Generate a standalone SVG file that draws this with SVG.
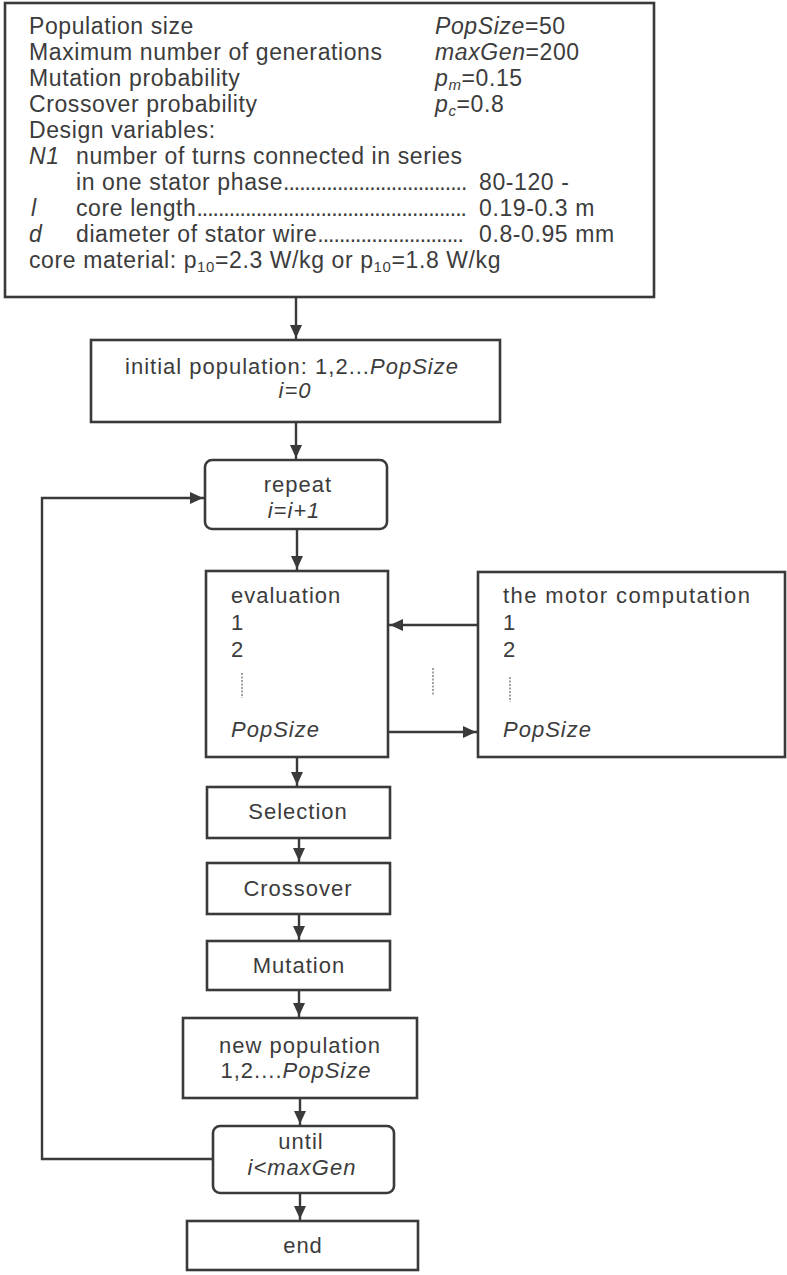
<svg xmlns="http://www.w3.org/2000/svg" width="787" height="1275" viewBox="0 0 787 1275">
<defs>
<style>
.box{fill:#fff;stroke:#3a3a3a;stroke-width:2.6}
.t{font-family:"Liberation Sans",Arial,sans-serif;font-size:22px;fill:#3c3c3c;letter-spacing:1px}
.p{font-size:23px;letter-spacing:0.6px}
.c{text-anchor:middle}
.i{font-style:italic}
.sub{font-size:15px}
.dots{letter-spacing:-1px}
.con{fill:none;stroke:#3a3a3a;stroke-width:2.4}
.dot{stroke:#8a8a8a;stroke-width:1.6;stroke-dasharray:2 1.5}
</style>
<marker id="ah" markerUnits="userSpaceOnUse" markerWidth="16" markerHeight="12" refX="15" refY="6" orient="auto">
<path d="M0,0 L13,6 L0,12 z" fill="#3a3a3a"/>
</marker>
</defs>
<rect width="787" height="1275" fill="#fff"/>

<g id="params">
<rect class="box" x="5" y="3" width="649" height="294"/>
<text class="t p" x="29" y="34">Population size</text>
<text class="t p" x="435" y="34"><tspan class="i">PopSize</tspan>=50</text>
<text class="t p" x="29" y="60">Maximum number of generations</text>
<text class="t p" x="435" y="60"><tspan class="i">maxGen</tspan>=200</text>
<text class="t p" x="29" y="86">Mutation probability</text>
<text class="t p" x="435" y="86"><tspan class="i">p</tspan><tspan class="sub i" dy="4">m</tspan><tspan dy="-4">=0.15</tspan></text>
<text class="t p" x="29" y="112">Crossover probability</text>
<text class="t p" x="435" y="112"><tspan class="i">p</tspan><tspan class="sub i" dy="4">c</tspan><tspan dy="-4">=0.8</tspan></text>
<text class="t p" x="29" y="138">Design variables:</text>
<text class="t p i" x="29" y="164">N1</text>
<text class="t p" x="76" y="164">number of turns connected in series</text>
<text class="t p" x="76" y="190">in one stator phase<tspan class="dots">..................................</tspan></text>
<text class="t p" x="479" y="190">80-120 -</text>
<text class="t p i" x="31" y="216">l</text>
<text class="t p" x="76" y="216">core length<tspan class="dots">..................................................</tspan></text>
<text class="t p" x="479" y="216">0.19-0.3 m</text>
<text class="t p i" x="29" y="242">d</text>
<text class="t p" x="76" y="242">diameter of stator wire<tspan class="dots">...........................</tspan></text>
<text class="t p" x="479" y="242">0.8-0.95 mm</text>
<text class="t p" x="29" y="268">core material: p<tspan class="sub" dy="4">10</tspan><tspan dy="-4">=2.3 W/kg or p</tspan><tspan class="sub" dy="4">10</tspan><tspan dy="-4">=1.8 W/kg</tspan></text>
</g>

<g id="initial">
<rect class="box" x="91" y="340" width="409" height="82"/>
<text class="t c" x="292" y="374">initial population: 1,2...<tspan class="i">PopSize</tspan></text>
<text class="t c i" x="295" y="398">i=0</text>
</g>

<g id="repeat">
<rect class="box" x="205" y="460" width="182" height="69" rx="7"/>
<text class="t c" x="298" y="492">repeat</text>
<text class="t c i" x="294" y="518">i=i+1</text>
</g>

<g id="evaluation">
<rect class="box" x="206" y="571" width="182" height="186"/>
<text class="t" x="231" y="603">evaluation</text>
<text class="t" x="231" y="630">1</text>
<text class="t" x="231" y="657">2</text>
<line class="dot" x1="242" y1="673" x2="242" y2="698"/>
<text class="t i" x="231" y="737">PopSize</text>
</g>

<g id="motor">
<rect class="box" x="478" y="572" width="307" height="185"/>
<text class="t" x="503" y="603" style="letter-spacing:1.4px">the motor computation</text>
<text class="t" x="503" y="630">1</text>
<text class="t" x="503" y="657">2</text>
<line class="dot" x1="510" y1="677" x2="510" y2="702"/>
<text class="t i" x="503" y="737">PopSize</text>
</g>

<g id="selection">
<rect class="box" x="207" y="787" width="183" height="51"/>
<text class="t c" x="298" y="819">Selection</text>
</g>

<g id="crossover">
<rect class="box" x="207" y="863" width="183" height="51"/>
<text class="t c" x="298" y="896">Crossover</text>
</g>

<g id="mutation">
<rect class="box" x="207" y="941" width="183" height="49"/>
<text class="t c" x="299" y="973">Mutation</text>
</g>

<g id="newpop">
<rect class="box" x="183" y="1018" width="234" height="80"/>
<text class="t c" x="300" y="1053">new population</text>
<text class="t c" x="296" y="1078">1,2....<tspan class="i">PopSize</tspan></text>
</g>

<g id="until">
<rect class="box" x="213" y="1126" width="181" height="67" rx="7"/>
<text class="t c" x="301" y="1149">until</text>
<text class="t c i" x="302" y="1175">i&lt;maxGen</text>
</g>

<g id="end">
<rect class="box" x="187" y="1221" width="231" height="49"/>
<text class="t c" x="303" y="1253">end</text>
</g>

<g id="connectors">
<line class="con" x1="296" y1="297" x2="296" y2="340" marker-end="url(#ah)"/>
<line class="con" x1="296" y1="422" x2="296" y2="460" marker-end="url(#ah)"/>
<line class="con" x1="297" y1="529" x2="297" y2="571" marker-end="url(#ah)"/>
<line class="con" x1="297" y1="757" x2="297" y2="787" marker-end="url(#ah)"/>
<line class="con" x1="299" y1="838" x2="299" y2="863" marker-end="url(#ah)"/>
<line class="con" x1="299" y1="914" x2="299" y2="941" marker-end="url(#ah)"/>
<line class="con" x1="299" y1="990" x2="299" y2="1018" marker-end="url(#ah)"/>
<line class="con" x1="300" y1="1098" x2="300" y2="1126" marker-end="url(#ah)"/>
<line class="con" x1="300" y1="1193" x2="300" y2="1221" marker-end="url(#ah)"/>
<line class="con" x1="478" y1="625" x2="388" y2="625" marker-end="url(#ah)"/>
<line class="con" x1="388" y1="732" x2="478" y2="732" marker-end="url(#ah)"/>
<path class="con" d="M213,1159 H42 V498 H205" marker-end="url(#ah)"/>
<line class="dot" x1="433" y1="668" x2="433" y2="695"/>
</g>
</svg>
